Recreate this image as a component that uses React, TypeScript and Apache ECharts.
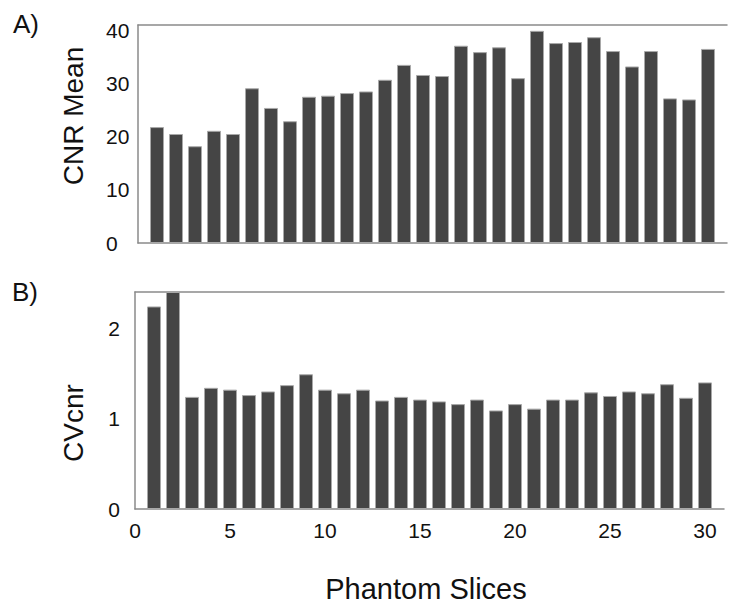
import React, { useEffect, useRef } from "react";
import * as echarts from "echarts";

const slices = [1, 2, 3, 4, 5, 6, 7, 8, 9, 10, 11, 12, 13, 14, 15, 16, 17, 18, 19, 20, 21, 22, 23, 24, 25, 26, 27, 28, 29, 30];
const cnrMean = [21.8, 20.5, 18.2, 21.1, 20.5, 29.1, 25.4, 22.9, 27.5, 27.7, 28.2, 28.5, 30.7, 33.5, 31.6, 31.4, 37.1, 35.9, 36.8, 31.0, 39.9, 37.6, 37.8, 38.7, 36.1, 33.2, 36.1, 27.2, 27.0, 36.5];
const cvCnr = [2.24, 2.4, 1.24, 1.34, 1.32, 1.26, 1.3, 1.37, 1.49, 1.32, 1.28, 1.32, 1.2, 1.24, 1.21, 1.19, 1.16, 1.21, 1.09, 1.16, 1.11, 1.21, 1.21, 1.29, 1.25, 1.3, 1.28, 1.38, 1.23, 1.4];

const FONT = "'Liberation Sans', Arial, Helvetica, sans-serif";
const LINE = { show: true, lineStyle: { color: "#8a8a8a", width: 1.5 } };
const TXT = "#111";

export default function App() {
  const ref = useRef<HTMLDivElement>(null);
  useEffect(() => {
    if (!ref.current) return;
    const chart = echarts.init(ref.current, undefined, { renderer: "svg" });
    const barItem = { color: "#454545", borderColor: "#a8a8a8", borderWidth: 1 };
    chart.setOption({
      animation: false,
      textStyle: { fontFamily: FONT },
      grid: [
        { left: 138, right: 2, top: 25, bottom: 364 },
        { left: 135, right: 5, top: 292, bottom: 98 },
      ],
      xAxis: [
        { type: "value", gridIndex: 0, min: 0, max: 31, interval: 5, axisLine: { ...LINE, onZero: false }, axisTick: { show: false }, axisLabel: { show: false }, splitLine: { show: false } },
        { type: "value", gridIndex: 0, position: "top", min: 0, max: 31, interval: 5, axisLine: { ...LINE, onZero: false }, axisTick: { show: false }, axisLabel: { show: false }, splitLine: { show: false } },
        { type: "value", gridIndex: 1, min: 0, max: 31, interval: 5, axisLine: { ...LINE, onZero: false }, axisTick: { show: false }, axisLabel: { show: true, showMaxLabel: false, fontSize: 21, color: TXT, margin: 11, fontFamily: FONT }, splitLine: { show: false } },
        { type: "value", gridIndex: 1, position: "top", min: 0, max: 31, interval: 5, axisLine: { ...LINE, onZero: false }, axisTick: { show: false }, axisLabel: { show: false }, splitLine: { show: false } },
      ],
      yAxis: [
        { type: "value", gridIndex: 0, min: 0, max: 41, interval: 10, axisLine: LINE, axisTick: { show: false }, splitLine: { show: false }, axisLabel: { showMaxLabel: false, fontSize: 21, color: TXT, align: "left", margin: 32, fontFamily: FONT } },
        { type: "value", gridIndex: 1, min: 0, max: 2.4, interval: 1, axisLine: LINE, axisTick: { show: false }, splitLine: { show: false }, axisLabel: { showMaxLabel: false, fontSize: 21, color: TXT, margin: 15, fontFamily: FONT } },
      ],
      series: [
        { type: "bar", xAxisIndex: 0, yAxisIndex: 0, barWidth: 14, itemStyle: barItem, data: slices.map((s, i) => [s, cnrMean[i]]) },
        { type: "bar", xAxisIndex: 2, yAxisIndex: 1, barWidth: 14, itemStyle: barItem, data: slices.map((s, i) => [s, cvCnr[i]]) },
      ],
      graphic: [
        { type: "text", x: 13, y: 24, style: { text: "A)", fontSize: 26, fill: TXT, fontFamily: FONT, verticalAlign: "middle" } },
        { type: "text", x: 12, y: 292, style: { text: "B)", fontSize: 26, fill: TXT, fontFamily: FONT, verticalAlign: "middle" } },
        { type: "text", x: 73, y: 116, rotation: Math.PI / 2, style: { text: "CNR Mean", fontSize: 28, fill: TXT, fontFamily: FONT, align: "center", verticalAlign: "middle" } },
        { type: "text", x: 73, y: 423, rotation: Math.PI / 2, style: { text: "CVcnr", fontSize: 28, fill: TXT, fontFamily: FONT, align: "center", verticalAlign: "middle" } },
        { type: "text", x: 426, y: 589, style: { text: "Phantom Slices", fontSize: 29, fill: TXT, fontFamily: FONT, align: "center", verticalAlign: "middle" } },
      ],
    });
    return () => chart.dispose();
  }, []);
  return <div ref={ref} style={{ position: "absolute", left: 0, top: 0, width: 729, height: 607 }} />;
}
